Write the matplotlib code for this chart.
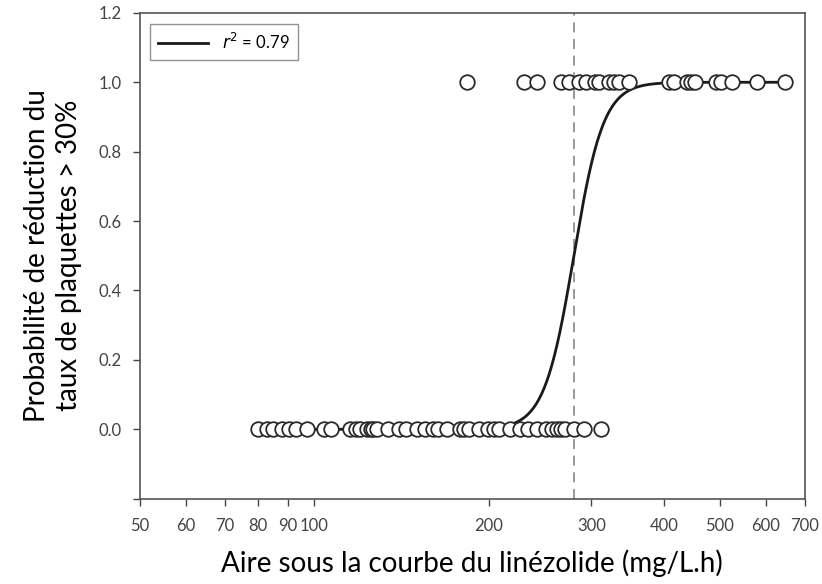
import numpy as np
import matplotlib.pyplot as plt
from matplotlib.ticker import FixedLocator, NullLocator

plt.rcParams['font.family'] = ['Lato', 'DejaVu Sans']

# observed AUC values (mg/L.h)
auc_zero = [80, 83, 85, 88, 90.5, 93, 97, 104, 107, 115, 118, 120, 123, 125,
            126, 128, 134, 140, 144, 150, 155, 160, 163, 169, 178, 181, 185,
            192, 199, 204, 208, 217, 226, 233, 242, 251, 257, 262, 266, 270,
            280, 292, 312]
auc_one = [183, 230, 242, 266, 275, 286, 294, 304, 310, 322, 329, 335, 349,
           409, 417, 438, 446, 452, 493, 503, 525, 580, 646]

# logistic fit on log(AUC)
auc50 = 280
slope = 17
r2 = 0.79

xticks = [50, 60, 70, 80, 90, 100, 200, 300, 400, 500, 600, 700]
yticks = [-0.2, 0.0, 0.2, 0.4, 0.6, 0.8, 1.0, 1.2]
ytick_labels = ['', '0.0', '0.2', '0.4', '0.6', '0.8', '1.0', '1.2']

fig = plt.figure(figsize=(8.22, 5.84), dpi=100)
ax = fig.add_axes([0.170, 0.146, 0.809, 0.832])

xs = np.logspace(np.log10(80), np.log10(650), 400)
prob = 1 / (1 + np.exp(-slope * (np.log(xs) - np.log(auc50))))
ax.plot(xs, prob, color='#1a1a1a', lw=2.0, label='$r^2$ = %.2f' % r2)

ax.plot(auc_zero, np.zeros(len(auc_zero)), 'o', mfc='white', mec='#2a2a2a',
        mew=1.3, ms=10.5, zorder=3)
ax.plot(auc_one, np.ones(len(auc_one)), 'o', mfc='white', mec='#2a2a2a',
        mew=1.3, ms=10.5, zorder=3)

ax.axvline(auc50, color='#888888', lw=1.2, ls=(0, (6, 4)), zorder=1)

ax.set_xscale('log')
ax.set_xlim(50, 700)
ax.set_ylim(-0.2, 1.2)
ax.xaxis.set_major_locator(FixedLocator(xticks))
ax.xaxis.set_minor_locator(NullLocator())
ax.set_xticklabels([str(t) for t in xticks])
ax.set_yticks(yticks)
ax.set_yticklabels(ytick_labels)
ax.tick_params(labelsize=12, colors='#444444', length=5, width=1.0, pad=9)
ax.tick_params(axis='y', pad=8)

for s in ax.spines.values():
    s.set_color('#555555')
    s.set_linewidth(1.2)

ax.set_xlabel('Aire sous la courbe du linézolide (mg/L.h)', fontsize=20, labelpad=11)
ax.set_ylabel('Probabilité de réduction du\ntaux de plaquettes > 30%', fontsize=20,
              labelpad=12, linespacing=1.3)

leg = ax.legend(loc='upper left', fontsize=12, frameon=True, fancybox=False,
                borderpad=0.5, handlelength=3.0, bbox_to_anchor=(0.003, 0.995))
leg.get_frame().set_edgecolor('#777777')
leg.get_frame().set_linewidth(1.0)

plt.savefig('out.png', dpi=100)
